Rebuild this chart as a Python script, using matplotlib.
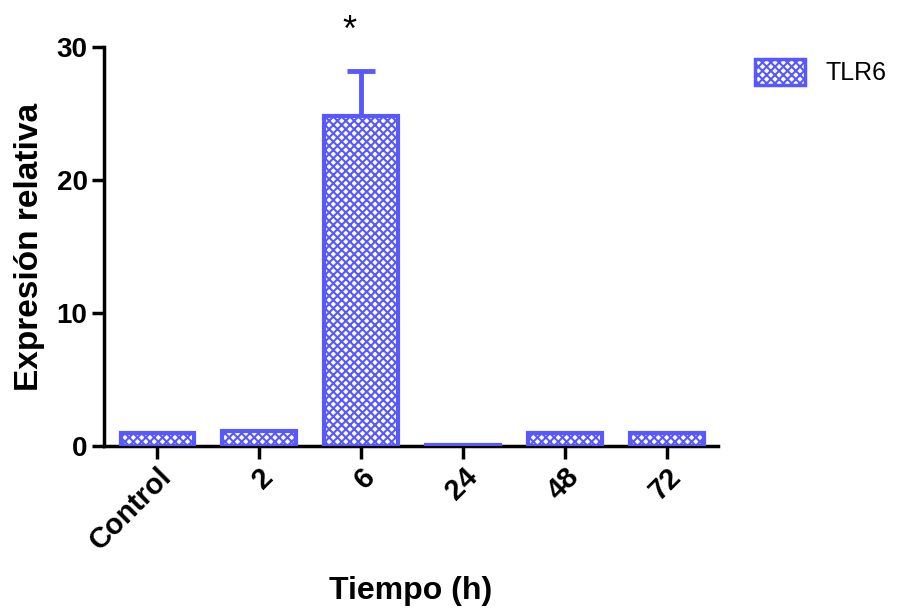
import matplotlib
matplotlib.use("Agg")
import matplotlib.pyplot as plt
from matplotlib.patches import Patch

plt.rcParams['font.family'] = ['Liberation Sans', 'DejaVu Sans']
plt.rcParams['hatch.linewidth'] = 1.5

categories = ["Control", "2", "6", "24", "48", "72"]
values = [1.0, 1.1, 24.8, 0.05, 1.0, 1.0]
errors = [0, 0, 3.4, 0, 0, 0]
series_name = "TLR6"
blue = "#5858ff"

fig = plt.figure(figsize=(9.06, 6.1), dpi=100)
ax = fig.add_axes([0.115, 0.269, 0.6775, 0.654])
x = list(range(len(categories)))

ax.bar(x, values, width=0.72, color="white", edgecolor=blue, hatch="xxxx", linewidth=0, zorder=2)
ax.bar(x, values, width=0.72, fill=False, edgecolor=blue, linewidth=3, zorder=3)
for xi, v, e in zip(x, values, errors):
    if e > 0:
        ax.errorbar(xi, v, yerr=[[0], [e]], fmt="none", ecolor=blue, elinewidth=3.5, capsize=10, capthick=3.5, zorder=1)
        ax.text(xi - 0.12, v + e + 3.0, "*", ha="center", va="center", fontsize=26, clip_on=False)

ax.set_xlim(-0.52, 5.5)
ax.set_ylim(0, 30)
ax.set_yticks([0, 10, 20, 30])
ax.set_xticks(x)
ax.set_xticklabels(categories, rotation=45, ha="right", rotation_mode="anchor", fontsize=21, fontweight="bold")
for lbl in ax.get_yticklabels():
    lbl.set_fontsize(20)
    lbl.set_fontweight("bold")
ax.spines["top"].set_visible(False)
ax.spines["right"].set_visible(False)
ax.spines["left"].set_linewidth(2.5)
ax.spines["bottom"].set_linewidth(2.5)
ax.tick_params(axis="both", length=9, width=2.5, pad=3)
ax.set_ylabel("Expresión relativa", fontsize=24, fontweight="bold", labelpad=8)
ax.set_xlabel("Tiempo (h)", fontsize=23, fontweight="bold", labelpad=15)

handle = Patch(facecolor="white", edgecolor=blue, hatch="xxxx", linewidth=2.5)
leg = fig.legend([handle], [series_name], loc="upper left", bbox_to_anchor=(0.809, 0.94),
                 frameon=False, fontsize=18, handlelength=2.0, handleheight=1.2, handletextpad=0.8)

fig.savefig("out.png", dpi=100)
